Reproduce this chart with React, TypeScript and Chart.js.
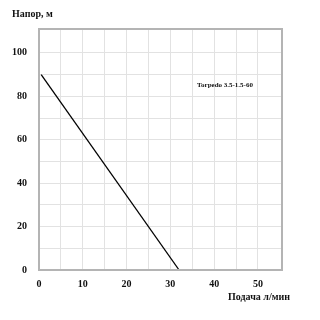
import React, { useEffect, useRef } from "react";
import { Chart, registerables } from "chart.js";

Chart.register(...registerables);

const flowValues = [0.5, 32];
const headValues = [90, 0];
const seriesName = "Torpedo 3.5-1.5-60";
const yTitle = "Напор, м";
const xTitle = "Подача л/мин";

const FONT = "'Liberation Serif', 'Times New Roman', serif";

const overlay = {
  id: "overlay",
  afterDraw(chart: any) {
    const { ctx, chartArea } = chart;
    ctx.save();
    ctx.strokeStyle = "#b4b4b4";
    ctx.lineWidth = 2;
    ctx.strokeRect(chartArea.left, chartArea.top, chartArea.right - chartArea.left, chartArea.bottom - chartArea.top);
    ctx.fillStyle = "#111";
    ctx.textBaseline = "middle";
    ctx.textAlign = "left";
    ctx.font = `bold 10px ${FONT}`;
    ctx.fillText(yTitle, 12, 14);
    ctx.fillText(xTitle, 228, 297);
    ctx.font = `bold 7px ${FONT}`;
    ctx.fillText(seriesName, 197, 85);
    ctx.restore();
  },
};

export default function App() {
  const ref = useRef<HTMLCanvasElement>(null);
  useEffect(() => {
    const chart = new Chart(ref.current!, {
      type: "scatter",
      data: {
        datasets: [
          {
            label: seriesName,
            data: flowValues.map((x, i) => ({ x, y: headValues[i] })),
            showLine: true,
            borderColor: "#000",
            borderWidth: 1.3,
            pointRadius: 0,
          },
        ],
      },
      options: {
        animation: false,
        responsive: false,
        layout: { padding: { top: 29, right: 38, left: 0, bottom: 0 } },
        plugins: { legend: { display: false }, tooltip: { enabled: false } },
        scales: {
          x: {
            type: "linear",
            min: 0,
            max: 55.5,
            afterFit: (s: any) => {
              s.height = 50;
            },
            afterBuildTicks: (s: any) => {
              s.ticks = s.ticks.filter((t: any) => t.value % 5 === 0);
            },
            grid: { color: "#e2e2e2", drawTicks: false, lineWidth: 1 },
            border: { display: false },
            ticks: {
              stepSize: 5,
              padding: 8,
              color: "#111",
              font: { family: FONT, size: 10, weight: "bold" },
              maxRotation: 0,
              autoSkip: false,
              callback: (v: any) => (v % 10 === 0 ? String(v) : ""),
            },
          },
          y: {
            min: 0,
            max: 111,
            afterFit: (s: any) => {
              s.width = 39;
            },
            afterBuildTicks: (s: any) => {
              s.ticks = s.ticks.filter((t: any) => t.value % 10 === 0);
            },
            grid: { color: "#e2e2e2", drawTicks: false, lineWidth: 1 },
            border: { display: false },
            ticks: {
              stepSize: 10,
              padding: 12,
              color: "#111",
              font: { family: FONT, size: 10, weight: "bold" },
              autoSkip: false,
              callback: (v: any) => (v % 20 === 0 ? String(v) : ""),
            },
          },
        },
      },
      plugins: [overlay],
    });
    return () => chart.destroy();
  }, []);
  return (
    <div style={{ position: "fixed", left: 0, top: 0, width: 320, height: 320, background: "#fff" }}>
      <canvas ref={ref} width={320} height={320} style={{ width: 320, height: 320 }} />
    </div>
  );
}
